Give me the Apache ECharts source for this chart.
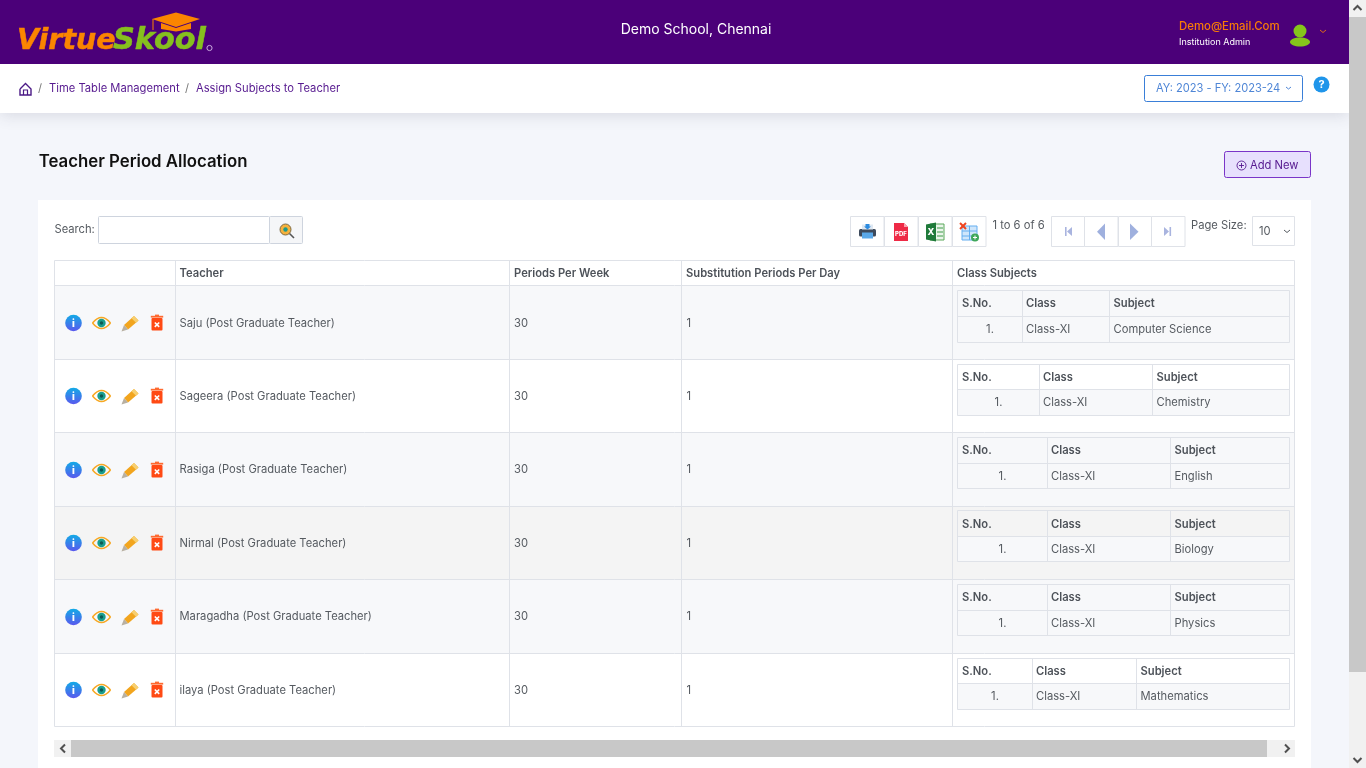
<!DOCTYPE html>
<html><head><meta charset="utf-8">
<style>html,body{margin:0;padding:0;width:1366px;height:768px;overflow:hidden;background:#f4f6fb}#c{width:1366px;height:768px}</style>
<script src="https://cdn.jsdelivr.net/npm/echarts@6/dist/echarts.min.js"></script>
</head><body><div id="c"></div>
<script>
const schoolName = "Demo School, Chennai";
const userEmail = "Demo@Email.Com";
const userRole = "Institution Admin";
const crumbs = ["Time Table Management", "Assign Subjects to Teacher"];
const yearLabel = "AY: 2023 - FY: 2023-24";
const pageTitle = "Teacher Period Allocation";
const pagerText = "1 to 6 of 6";
const pageSize = "10";
const columns = ["", "Teacher", "Periods Per Week", "Substitution Periods Per Day", "Class Subjects"];
const subColumns = ["S.No.", "Class", "Subject"];
const teachers = ["Saju (Post Graduate Teacher)", "Sageera (Post Graduate Teacher)", "Rasiga (Post Graduate Teacher)", "Nirmal (Post Graduate Teacher)", "Maragadha (Post Graduate Teacher)", "ilaya (Post Graduate Teacher)"];
const periodsPerWeek = [30, 30, 30, 30, 30, 30];
const substitutionPerDay = [1, 1, 1, 1, 1, 1];
const classNames = ["Class-XI", "Class-XI", "Class-XI", "Class-XI", "Class-XI", "Class-XI"];
const subjects = ["Computer Science", "Chemistry", "English", "Biology", "Physics", "Mathematics"];

const colX = [54.5, 175.5, 509.5, 681.5, 952.5, 1294.5];
const rowY = [285.5, 359.5, 432.5, 506.5, 579.5, 653.5, 726.5];
const iconY = [323, 396, 470, 543, 617, 690];
const textY = [324, 397, 470, 544, 617, 691];
const subTop = [290.5, 364.5, 437.5, 510.5, 584.5, 658.5];
const subMid = [316.5, 389.5, 463.5, 536.5, 610.5, 683.5];
const subEnd = [342.5, 415.5, 488.5, 561.5, 635.5, 709.5];
const subColX = [[1022.5, 1109.5], [1039.5, 1152.5], [1047.5, 1170.5], [1047.5, 1170.5], [1047.5, 1170.5], [1032.5, 1136.5]];
const rowFill = ["#f7f8fa", "#ffffff", "#f7f8fa", "#f4f4f4", "#f7f8fa", "#ffffff"];

const F = "Inter, sans-serif";
const TS = 11.2;
const els = [];
const rect = (x, y, w, h, fill, stroke, r, extra) => els.push({type: 'rect', shape: {x, y, width: w, height: h, r: r || 0}, style: Object.assign({fill: fill || 'none', stroke: stroke || 'none', lineWidth: 1}, extra || {})});
const line = (x1, y1, x2, y2, c, lw) => els.push({type: 'line', shape: {x1, y1, x2, y2}, style: {stroke: c, lineWidth: lw || 1}});
const text = (t, x, y, size, fill, weight, align, fam) => els.push({type: 'text', style: {text: String(t), x, y, fill, font: (weight || 400) + ' ' + size + 'px ' + (fam || F), textAlign: align || 'left', textVerticalAlign: 'middle'}});
const circle = (cx, cy, r, fill, stroke, lw) => els.push({type: 'circle', shape: {cx, cy, r}, style: {fill: fill || 'none', stroke: stroke || 'none', lineWidth: lw || 1}});
const ellipse = (cx, cy, rx, ry, fill, stroke, lw) => els.push({type: 'ellipse', shape: {cx, cy, rx, ry}, style: {fill: fill || 'none', stroke: stroke || 'none', lineWidth: lw || 1}});
const poly = (pts, fill, stroke, lw) => els.push({type: 'polygon', shape: {points: pts}, style: {fill: fill || 'none', stroke: stroke || 'none', lineWidth: lw || 1}});
const pline = (pts, stroke, lw) => els.push({type: 'polyline', shape: {points: pts}, style: {fill: 'none', stroke, lineWidth: lw || 1}});
const curve = (x1, y1, cx, cy, x2, y2, stroke, lw) => els.push({type: 'bezierCurve', shape: {x1, y1, x2, y2, cpx1: cx, cpy1: cy}, style: {fill: 'none', stroke, lineWidth: lw || 1}});
const grad = (c0, c1) => ({type: 'linear', x: 0, y: 0, x2: 0, y2: 1, colorStops: [{offset: 0, color: c0}, {offset: 1, color: c1}]});

/* page */
rect(0, 0, 1366, 768, '#f4f6fb');
rect(0, 64, 1349, 49, '#ffffff', null, 0, {shadowBlur: 16, shadowColor: 'rgba(60,60,90,0.16)', shadowOffsetY: 2});
rect(0, 0, 1349, 64, '#4b0079');

/* logo */
els.push({type: 'text', style: {text: 'Virtue', x: 17, y: 41.5, fill: '#fb8500', font: 'italic 700 28.5px "DejaVu Sans", sans-serif', textVerticalAlign: 'middle', stroke: '#fb8500', lineWidth: 0.5}});
els.push({type: 'text', style: {text: 'Skool', x: 113, y: 41.5, fill: '#86c01e', font: 'italic 700 30.3px "DejaVu Sans", sans-serif', textVerticalAlign: 'middle', stroke: '#86c01e', lineWidth: 0.5}});
poly([[152, 19], [176, 12.5], [200, 19], [176, 27]], '#fb8500');
poly([[161, 23], [176, 28], [191, 23], [191, 29], [176, 31.5], [161, 29]], '#fb8500');
line(153, 19, 153, 30, '#fb8500', 1);
circle(209.5, 48, 2.6, null, '#c9a8de', 1);

text(schoolName, 696, 30, 14, '#ffffff', 400, 'center');
text(userEmail, 1179, 27, 11.4, '#f97b06', 500);
text(userRole, 1179, 42, 9, '#ffffff', 400);
circle(1300, 31, 6.5, '#85c51b');
ellipse(1300, 42, 10, 4.5, '#85c51b');
pline([[1320, 30], [1323, 32.5], [1326, 30]], '#e06b14', 1);

/* breadcrumb */
pline([[20, 89], [25.5, 83.5], [31, 89], [31, 95], [20, 95], [20, 89]], '#4b1a86', 1.4);
pline([[23.5, 95], [23.5, 90], [27.5, 90], [27.5, 95]], '#4b1a86', 1.2);
text('/', 40, 89, TS, '#777777', 400, 'center');
text(crumbs[0], 49, 89, TS, '#56198f');
text('/', 187, 89, TS, '#777777', 400, 'center');
text(crumbs[1], 196, 89, TS, '#56198f');

rect(1144.5, 75.5, 158, 26, '#ffffff', '#3a7fd8', 2);
text(yearLabel, 1156, 88.5, 11.1, '#4f86d6');
pline([[1286, 87], [1288.5, 89], [1291, 87]], '#4f86d6', 1);
circle(1321.5, 84.5, 8, '#1f95ea');
text('?', 1321.5, 85, 11, '#ffffff', 700, 'center');

/* title + add */
text(pageTitle, 38.7, 162, 16.8, '#111111', 600);
rect(1224.5, 151.5, 86, 26, '#e7e0fd', '#7a35c8', 2);
circle(1241.5, 165.5, 4.5, null, '#56198f', 0.9);
line(1239, 165.5, 1244, 165.5, '#56198f', 0.9);
line(1241.5, 163, 1241.5, 168, '#56198f', 0.9);
text('Add New', 1250, 165.5, TS, '#56198f');

/* card */
rect(38, 200, 1273, 568, '#ffffff');

/* search */
text('Search:', 54.5, 230, TS, '#555a60');
rect(98.5, 216.5, 171, 27, '#ffffff', '#ced4de', 1);
rect(269.5, 216.5, 33, 27, '#f5f6f8', '#ced4de', 1);
circle(285.5, 229.5, 5.5, '#f6b13c', '#7b6a45', 1);
circle(285.5, 229.5, 2.2, '#1e9a8a');
line(289.5, 233.5, 294, 238, '#555555', 1.6);

/* toolbar */
const B = '#dfe2e8';
[850.5, 884.5, 918.5, 952.5].forEach(x => rect(x, 216.5, 33.5, 30, '#ffffff', B));
// print
rect(859, 229, 17, 7.5, '#3d4a5c', null, 1.5);
rect(862, 232.5, 11, 6, '#5aa8e8');
rect(862, 224.5, 11, 5, '#dfe8f2');
poly([[865.5, 224], [869.5, 224], [869.5, 226.5], [871, 226.5], [867.5, 229.5], [864, 226.5], [865.5, 226.5]], '#2c8be0');
// pdf
poly([[894, 223], [904, 223], [908, 227], [908, 241], [894, 241]], '#ee2a46');
poly([[904, 223], [908, 227], [904, 227]], '#f9a3ae');
text('PDF', 901, 234, 6, '#ffffff', 800, 'center');
// excel
rect(930, 224, 14, 16, '#eaf5ea', '#5aa85a');
[228, 232, 236].forEach(y => line(937, y, 943, y, '#3f9a4a', 1));
poly([[926, 224.5], [936, 222.5], [936, 241.5], [926, 239.5]], '#1f7a3a');
text('X', 931, 232.5, 9, '#ffffff', 800, 'center');
// table delete/add
rect(962, 226, 15, 14, '#cfe6fb', '#65aef0');
line(962, 231, 977, 231, '#65aef0', 1);
line(962, 236, 977, 236, '#65aef0', 1);
line(969.5, 226, 969.5, 240, '#65aef0', 1);
line(960, 223, 966, 229, '#f0441f', 2);
line(966, 223, 960, 229, '#f0441f', 2);
circle(975, 237.5, 4, '#3ea75a');
line(973, 237.5, 977, 237.5, '#ffffff', 1);
line(975, 235.5, 975, 239.5, '#ffffff', 1);

text(pagerText, 992.5, 226, TS, '#555a60');

/* pager */
[1051.5, 1084.5, 1118.5, 1151.5].forEach((x, i) => rect(x, 216.5, i % 2 ? 33.5 : 33, 30, '#ffffff', B));
const PG = '#a9b4df';
rect(1065, 227, 1.6, 9, PG);
poly([[1072, 227], [1072, 236], [1067, 231.5]], PG);
poly([[1105, 223.5], [1105, 240], [1097, 231.7]], '#9fb0de');
poly([[1130, 223.5], [1130, 240], [1138.5, 231.7]], '#9fb0de');
poly([[1164, 227], [1164, 236], [1169, 231.5]], PG);
rect(1169.5, 227, 1.6, 9, PG);

text('Page Size:', 1191, 226, TS, '#555a60');
rect(1252.5, 216.5, 42, 29, '#ffffff', B);
text(pageSize, 1259, 231.5, TS, '#555a60');
pline([[1284, 230], [1287, 232.5], [1290, 230]], '#555a60', 1);

/* table */
const GRID = '#dfe2e8';
const rowIcons = cy => {
  circle(73.5, cy, 8.3, grad('#12abe6', '#5a58ee'));
  text('i', 73.5, cy + 0.5, 10, '#ffffff', 800, 'center');
  curve(92.5, cy, 101.5, cy - 11, 110.5, cy, '#f7a823', 1.5);
  curve(92.5, cy, 101.5, cy + 11, 110.5, cy, '#f7a823', 1.5);
  circle(101.5, cy, 4.2, '#1a9e8e');
  circle(101.5, cy, 1.7, '#0c5a52');
  poly([[124, cy + 2], [134, cy - 7], [138.5, cy - 2.5], [128, cy + 6.5]], '#f2a51e');
  poly([[124, cy + 2], [128, cy + 6.5], [121.5, cy + 8.5]], '#b8b0a2');
  poly([[131.5, cy - 4.7], [134, cy - 7], [138.5, cy - 2.5], [136, cy - 0.3]], '#f7cf70');
  rect(151.5, cy - 5, 11, 12.5, '#ff4a14', null, 1);
  rect(150.8, cy - 7.2, 12.4, 1.8, '#ff6a30');
  rect(155, cy - 8.4, 4, 1.5, '#ff6a30');
  line(154.8, cy - 0.5, 159.2, cy + 3.9, '#ffffff', 1.6);
  line(159.2, cy - 0.5, 154.8, cy + 3.9, '#ffffff', 1.6);
};

rect(colX[0], 260.5, colX[5] - colX[0], rowY[0] - 260.5, '#ffffff');
columns.forEach((c, i) => { if (c) text(c, colX[i] + (i === 1 ? 4 : 4.5), 274, TS, '#4d5259', 600); });

teachers.forEach((t, i) => {
  const y0 = rowY[i], y1 = rowY[i + 1], cy = textY[i];
  rect(colX[0], y0, colX[5] - colX[0], y1 - y0, rowFill[i]);
  rowIcons(iconY[i]);
  text(t, colX[1] + 4, cy, TS, '#555a60');
  text(periodsPerWeek[i], colX[2] + 4.5, cy, TS, '#555a60');
  text(substitutionPerDay[i], colX[3] + 5, cy, TS, '#555a60');
  /* nested */
  const sx = 957.5, ex = 1289.5, sy = subTop[i], my = subMid[i], ey = subEnd[i];
  const cx = subColX[i];
  rect(sx, sy, ex - sx, ey - sy, rowFill[i]);
  rect(sx, my, ex - sx, ey - my, '#f7f8fa');
  rect(sx, sy, ex - sx, ey - sy, null, GRID);
  line(sx, my, ex, my, GRID);
  line(cx[0], sy, cx[0], ey, GRID);
  line(cx[1], sy, cx[1], ey, GRID);
  const hy = y0 + 18;
  text(subColumns[0], sx + 4.5, hy, TS, '#4d5259', 600);
  text(subColumns[1], cx[0] + 3.5, hy, TS, '#4d5259', 600);
  text(subColumns[2], cx[1] + 4, hy, TS, '#4d5259', 600);
  text('1.', (sx + cx[0]) / 2, my + 13, TS, '#555a60', 400, 'center');
  text(classNames[i], cx[0] + 3.5, my + 13, TS, '#555a60');
  text(subjects[i], cx[1] + 4, my + 13, TS, '#555a60');
});
rect(colX[0], 260.5, colX[5] - colX[0], rowY[6] - 260.5, null, GRID);
rowY.slice(0, 6).forEach(y => line(colX[0], y, colX[5], y, GRID));
colX.slice(1, 5).forEach(x => line(x, 260.5, x, rowY[6], GRID));

/* scrollbars */
rect(54, 740, 1241, 17, '#f1f1f1');
rect(71, 740, 1196, 17, '#c8c8c8');
pline([[65, 744.5], [61, 748.5], [65, 752.5]], '#505050', 2);
pline([[1285, 744.5], [1289, 748.5], [1285, 752.5]], '#505050', 2);
rect(1349, 0, 17, 768, '#f1f1f1');
rect(1349, 17, 17, 655, '#c8c8c8');
pline([[1353.5, 10], [1357.5, 6], [1361.5, 10]], '#505050', 2);
pline([[1353.5, 758], [1357.5, 762], [1361.5, 758]], '#505050', 2);

const chart = echarts.init(document.getElementById('c'), null, {renderer: 'canvas', width: 1366, height: 768});
chart.setOption({animation: false, graphic: {elements: els.map(e => Object.assign({silent: true}, e))}});
</script></body></html>
